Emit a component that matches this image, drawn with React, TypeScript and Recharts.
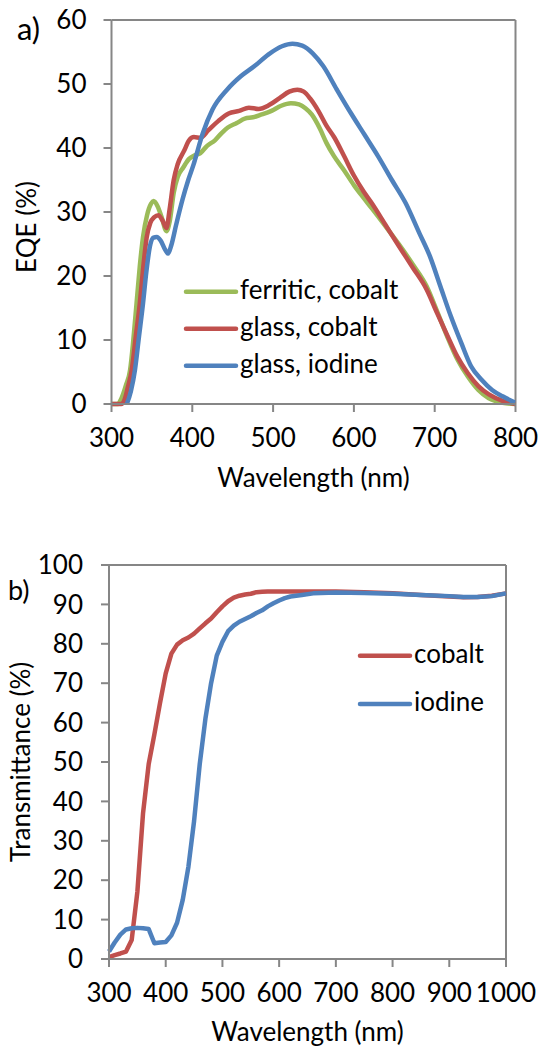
import { Line, LineChart, ReferenceLine, XAxis, YAxis } from "recharts"

// a) EQE spectra
const eqeTicksX = [300, 400, 500, 600, 700, 800]
const eqeTicksY = [0, 10, 20, 30, 40, 50, 60]

const ferriticCobaltNm = [300, 308, 312, 318, 323, 327, 331, 335, 339, 344, 349, 352, 357, 362, 368, 372, 377, 382, 389, 396, 402, 410, 418, 428, 436, 444, 455, 465, 475, 485, 498, 510, 522, 532, 540, 548, 558, 566, 575, 588, 600, 612, 622, 639, 656, 673, 690, 702, 715, 728, 741, 754, 767, 784, 800]
const ferriticCobaltEqe = [0, 0, 0.8, 3, 5.3, 10, 15.7, 21.5, 26.1, 29.5, 31.3, 31.7, 30.9, 29.2, 27, 28.5, 33, 35.5, 37, 38.3, 38.8, 39.2, 40.3, 41.2, 42.3, 43.2, 43.9, 44.6, 44.8, 45.2, 45.8, 46.6, 47, 46.8, 46.2, 45.2, 43, 40.8, 38.8, 36.5, 34.2, 32.2, 30.6, 27.8, 24.9, 21.8, 18.4, 14.8, 10.7, 7, 4.3, 2.2, 0.9, 0.2, 0]

const glassCobaltNm = [300, 312, 316, 320, 325, 330, 335, 339, 343.5, 348, 353, 358, 363, 368, 372, 377, 382, 390, 396, 402, 410, 420, 432, 445, 458, 470, 482, 495, 508, 520, 530, 538, 546, 556, 566, 576, 588, 600, 612, 622, 639, 656, 673, 690, 703, 716, 728, 741, 754, 767, 784, 800]
const glassCobaltEqe = [0, 0, 0.6, 2.5, 5.3, 10.5, 15.7, 21, 26, 28.3, 29.2, 29.5, 28.7, 27.5, 30.5, 35, 37.5, 39.6, 41.2, 41.7, 41.6, 42.8, 44.2, 45.4, 45.8, 46.3, 46.1, 46.7, 47.8, 48.8, 49.1, 48.8, 47.7, 45.8, 43.5, 41.6, 38.7, 35.7, 33.2, 31.4, 28, 24.6, 21.3, 17.9, 14.2, 10.6, 7.4, 4.8, 2.8, 1.5, 0.5, 0]

const glassIodineNm = [319, 324, 329, 334, 339, 343, 347.5, 352, 356, 361, 366, 370, 374, 380, 388, 395, 401, 413, 425, 443, 460, 477, 494, 511, 524, 536, 549, 562, 579, 596, 613, 630, 647, 664, 681, 694, 707, 720, 733, 745, 758, 771, 784, 800]
const glassIodineEqe = [0, 2, 5.3, 10.5, 15.7, 20.5, 24.6, 26, 26.1, 25.5, 24.2, 23.5, 24.8, 28, 32, 35, 37.2, 42.3, 46, 49.1, 51.2, 52.8, 54.6, 55.9, 56.3, 56, 54.8, 52.8, 49.1, 45.5, 42.1, 38.7, 35, 31.4, 26.7, 23.1, 18.4, 13.7, 9.5, 5.9, 3.8, 2.2, 1.2, 0.2]

// b) transmittance
const transTicksX = [300, 400, 500, 600, 700, 800, 900, 1000]
const transTicksY = [0, 10, 20, 30, 40, 50, 60, 70, 80, 90, 100]

const cobaltNm = [300, 310, 320, 330, 340, 350, 360, 370, 380, 390, 400, 410, 420, 430, 440, 450, 460, 470, 480, 490, 500, 510, 520, 530, 540, 550, 560, 570, 580, 600, 650, 700, 750, 800, 850, 900, 925, 950, 975, 1000]
const cobaltT = [0.5, 1, 1.4, 1.9, 4.8, 17, 37, 49.5, 57, 65, 72.5, 77.5, 79.8, 80.9, 81.6, 82.6, 83.9, 85.2, 86.4, 88, 89.5, 90.8, 91.7, 92.2, 92.5, 92.7, 93.1, 93.2, 93.3, 93.3, 93.3, 93.3, 93.1, 92.8, 92.4, 92, 91.8, 91.9, 92.2, 92.8]

const iodineNm = [300, 310, 320, 330, 340, 350, 360, 370, 380, 390, 400, 410, 420, 430, 440, 450, 460, 470, 480, 490, 500, 510, 520, 530, 540, 550, 560, 570, 580, 590, 600, 610, 620, 640, 660, 700, 750, 800, 850, 900, 925, 950, 975, 1000]
const iodineT = [1.9, 4.2, 6.2, 7.5, 7.8, 7.9, 7.8, 7.6, 4, 4.2, 4.3, 6, 9.2, 15, 23.4, 35, 49.5, 61, 70, 77, 80.5, 83.2, 84.6, 85.6, 86.3, 87, 87.8, 88.5, 89.5, 90.3, 91, 91.6, 92, 92.4, 92.8, 93, 92.9, 92.7, 92.4, 92.1, 91.9, 91.9, 92.1, 92.8]

const GREEN = "#9BBB59"
const RED = "#C0504D"
const BLUE = "#4F81BD"
const AXIS = "#868686"
const FONT = "Lato, 'Open Sans', sans-serif"
const FS = 26

const zip = (nm: number[], v: number[]) => nm.map((x, i) => ({ nm: x, v: v[i] }))

const eqeSeries = [
  { name: "ferritic, cobalt", color: GREEN, data: zip(ferriticCobaltNm, ferriticCobaltEqe) },
  { name: "glass, cobalt", color: RED, data: zip(glassCobaltNm, glassCobaltEqe) },
  { name: "glass, iodine", color: BLUE, data: zip(glassIodineNm, glassIodineEqe) },
]

const transSeries = [
  { name: "cobalt", color: RED, data: zip(cobaltNm, cobaltT) },
  { name: "iodine", color: BLUE, data: zip(iodineNm, iodineT) },
]

const tickStyle = { fill: "#000", fontSize: FS, fontFamily: FONT }
const axisLine = { stroke: AXIS, strokeWidth: 2 }

function LegendBlock({ items, x, y, gap }: { items: { name: string; color: string }[]; x: number; y: number; gap: number }) {
  return (
    <g>
      {items.map((s, i) => (
        <g key={s.name}>
          <line x1={x + 2} x2={x + 52} y1={y + i * gap} y2={y + i * gap} stroke={s.color} strokeWidth={4.5} strokeLinecap="round" />
          <text x={x + 56} y={y + i * gap + 7} fontSize={FS} fill="#000">
            {s.name}
          </text>
        </g>
      ))}
    </g>
  )
}

export default function App() {
  return (
    <div style={{ position: "absolute", left: 0, top: 0, width: 540, height: 1053, background: "#fff", fontFamily: FONT }}>
      <div style={{ position: "absolute", left: 0, top: 0 }}>
        <LineChart width={540} height={500} margin={{ top: 20, right: 24.5, bottom: 0, left: 0 }}>
          <XAxis
            dataKey="nm"
            type="number"
            domain={[300, 800]}
            ticks={eqeTicksX}
            allowDataOverflow
            height={96}
            tick={tickStyle}
            tickSize={8}
            tickMargin={17}
            axisLine={axisLine}
            tickLine={axisLine}
          />
          <YAxis
            type="number"
            domain={[0, 60]}
            ticks={eqeTicksY}
            width={111.5}
            tick={tickStyle}
            tickSize={8}
            tickMargin={17}
            axisLine={axisLine}
            tickLine={axisLine}
          />
          <ReferenceLine y={60} stroke={AXIS} strokeWidth={2} />
          <ReferenceLine x={800} stroke={AXIS} strokeWidth={2} />
          {eqeSeries.map((s) => (
            <Line
              key={s.name}
              data={s.data}
              dataKey="v"
              name={s.name}
              type="monotone"
              stroke={s.color}
              strokeWidth={4.5}
              dot={false}
              isAnimationActive={false}
            />
          ))}
        </LineChart>
      </div>

      <div style={{ position: "absolute", left: 0, top: 530 }}>
        <LineChart width={540} height={523} margin={{ top: 35, right: 34, bottom: 0, left: 0 }}>
          <XAxis
            dataKey="nm"
            type="number"
            domain={[300, 1000]}
            ticks={transTicksX}
            height={94}
            tick={tickStyle}
            tickSize={8}
            tickMargin={17}
            axisLine={axisLine}
            tickLine={axisLine}
          />
          <YAxis
            type="number"
            domain={[0, 100]}
            ticks={transTicksY}
            width={109}
            tick={tickStyle}
            tickSize={8}
            tickMargin={18}
            axisLine={axisLine}
            tickLine={axisLine}
          />
          <ReferenceLine y={100} stroke={AXIS} strokeWidth={2} />
          <ReferenceLine x={1000} stroke={AXIS} strokeWidth={2} />
          {transSeries.map((s) => (
            <Line
              key={s.name}
              data={s.data}
              dataKey="v"
              name={s.name}
              type="linear"
              stroke={s.color}
              strokeWidth={4.5}
              strokeLinejoin="round"
              dot={false}
              isAnimationActive={false}
            />
          ))}
        </LineChart>
      </div>

      {/* labels, titles and legends */}
      <svg width={540} height={1053} style={{ position: "absolute", left: 0, top: 0, pointerEvents: "none" }} fontFamily={FONT}>
        <text x={17} y={40} fontSize={31} fill="#000">a)</text>
        <text x={8} y={600} fontSize={27} fill="#000">b)</text>

        <text x={313.5} y={487} fontSize={FS} textAnchor="middle" fill="#000">Wavelength (nm)</text>
        <text x={36} y={227} fontSize={FS} textAnchor="middle" fill="#000" transform="rotate(-90 36 227)">EQE (%)</text>

        <text x={307.5} y={1041} fontSize={FS} textAnchor="middle" fill="#000">Wavelength (nm)</text>
        <text x={30} y={762} fontSize={FS} textAnchor="middle" fill="#000" transform="rotate(-90 30 762)">Transmittance (%)</text>

        <LegendBlock items={eqeSeries} x={184} y={291.7} gap={37} />
        <LegendBlock items={transSeries} x={358} y={655.7} gap={48.3} />
      </svg>
    </div>
  )
}
